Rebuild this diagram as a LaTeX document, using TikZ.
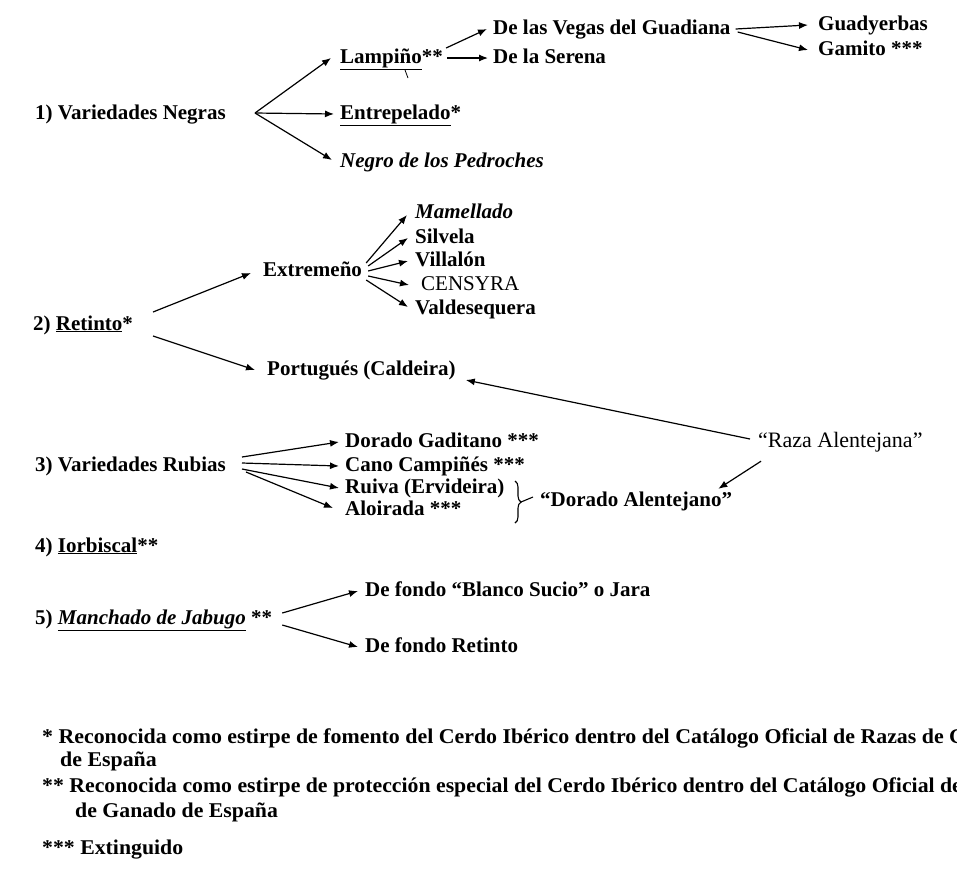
\documentclass[tikz,border=0pt]{standalone}
\usepackage{fontspec}
\setmainfont{Liberation Serif}
\usepackage{graphicx}
\usetikzlibrary{arrows.meta,decorations.pathreplacing}
\newlength\fnwa
\newlength\fnwb
\newcommand\mainfnt{\fontsize{21}{24}\selectfont\bfseries}
\newcommand\lightfnt{\fontsize{21}{24}\selectfont\mdseries}
\newcommand\notefnt{\fontsize{21}{24}\selectfont\bfseries}
\begin{document}
\settowidth\fnwa{\notefnt * Reconocida como estirpe de fomento del Cerdo Ibérico dentro del Catálogo Oficial de Razas de }%
\pgfmathsetmacro\fsa{(957-42-8)/\fnwa}%
\settowidth\fnwb{\notefnt ** Reconocida como estirpe de protección especial del Cerdo Ibérico dentro del Catálogo Oficial d}%
\pgfmathsetmacro\fsb{(952-42)/\fnwb}%
\begin{tikzpicture}[x=1pt,y=-1pt,
  lbl/.style={inner sep=0pt, anchor=base west, text height=14pt, text depth=4pt, font=\mainfnt},
  note/.style={inner sep=0pt, anchor=base west},
  arr/.style={line width=1.2pt, -{Latex[length=9pt,width=7pt]}},
  plainline/.style={line width=1.1pt}]
\useasboundingbox (0,0) rectangle (957,879);
\clip (0,0) rectangle (957,879);

% ---- group 1
\node[lbl] (vn) at (35,119) {1) Variedades Negras};
\node[lbl] (lamp) at (340,63) {\underline{Lampiño}**};
\node[lbl] (entre) at (340,119) {\underline{Entrepelado}*};
\node[lbl] (negro) at (340,167) {\itshape Negro de los Pedroches};
\node[lbl] (vegas) at (493,34) {De las Vegas del Guadiana};
\node[lbl] (serena) at (493,63) {De la Serena};
\node[lbl] (guad) at (818,30) {Guadyerbas};
\node[lbl] (gamito) at (818,55) {Gamito ***};

\coordinate (vnO) at (255,113);
\draw[arr] (vnO) -- ([shift={(-9,0)}]lamp.west);
\draw[arr] (vnO) -- ([shift={(-6,0)}]entre.west);
\draw[arr] (vnO) -- ([shift={(-8,-2)}]negro.west);
\draw[arr] ([shift={(3,-10)}]lamp.east) -- ([shift={(-6,0)}]vegas.west);
\draw[arr] ([shift={(4,0)}]lamp.east) -- ([shift={(-5,0)}]serena.west);
\draw[arr] ([shift={(5,0)}]vegas.east) -- ([shift={(-10,0)}]guad.west);
\draw[arr] ([shift={(7,3)}]vegas.east) -- ([shift={(-10,0)}]gamito.west);
\coordinate (tickA) at (405,70);
\coordinate (tickB) at (408,78);
\draw[line width=0.8pt] (tickA) -- (tickB);

% ---- group 2
\node[lbl] (ret) at (33,330) {2) \underline{Retinto}*};
\node[lbl] (extr) at (263,276) {Extremeño};
\node[lbl] (mam) at (415,218) {\itshape Mamellado};
\node[lbl] (silv) at (415,243) {Silvela};
\node[lbl] (vill) at (415,266) {Villalón};
\node[lbl, font=\lightfnt] (cens) at (421,290) {CENSYRA};
\node[lbl] (vald) at (415,314) {Valdesequera};
\node[lbl] (port) at (267,375) {Portugués (Caldeira)};

\coordinate (retA) at (153,312);
\coordinate (retB) at (153,336);
\draw[arr] (retA) -- ([shift={(-12,2)}]extr.west);
\draw[arr] (retB) -- ([shift={(-12,0)}]port.west);
\draw[arr] ([shift={(4,-8)}]extr.east) -- ([shift={(-8,2)}]mam.west);
\draw[arr] ([shift={(6,-5)}]extr.east) -- ([shift={(-7,0)}]silv.west);
\draw[arr] ([shift={(6,0)}]extr.east) -- ([shift={(-7,0)}]vill.west);
\draw[arr] ([shift={(6,5)}]extr.east) -- ([shift={(-12,0)}]cens.west);
\draw[arr] ([shift={(4,9)}]extr.east) -- ([shift={(-7,-2)}]vald.west);

% ---- Raza Alentejana
\node[lbl, font=\fontsize{22}{24}\selectfont\mdseries] (raza) at (758,447) {“Raza Alentejana”};
\draw[arr] ([shift={(-8,-3)}]raza.west) -- ([shift={(10,10)}]port.east);

% ---- group 3
\node[lbl] (rub) at (35,471) {3) Variedades Rubias};
\node[lbl] (gad) at (345,447) {Dorado Gaditano ***};
\node[lbl] (cano) at (345,471) {Cano Campiñés ***};
\node[lbl] (ruiva) at (345,493) {Ruiva (Ervideira)};
\node[lbl] (aloi) at (345,515) {Aloirada ***};
\node[lbl] (doral) at (540,506) {“Dorado Alentejano”};

\draw[arr] ([shift={(16,-9)}]rub.east) -- ([shift={(-6,0)}]gad.west);
\draw[arr] ([shift={(16,-3)}]rub.east) -- ([shift={(-6,0)}]cano.west);
\draw[arr] ([shift={(16,3)}]rub.east) -- ([shift={(-6,0)}]ruiva.west);
\draw[arr] ([shift={(20,6)}]rub.east) -- ([shift={(-12,-2)}]aloi.west);
\draw[arr] ([shift={(3,10)}]raza.south west) -- ([shift={(-14,-3)}]doral.north east);

\coordinate (brT) at (515,481);
\coordinate (brB) at (515,523);
\coordinate (brTip) at (521,502);
\draw[plainline, decorate, decoration={brace, amplitude=6pt}] (brT) -- (brB);
\draw[plainline] (brTip) -- ([shift={(-7,-4)}]doral.west);

% ---- group 4, 5
\node[lbl] (ior) at (35,552) {4) \underline{Iorbiscal}**};
\node[lbl] (manch) at (35,624) {5) \underline{\itshape Manchado de Jabugo} **};
\node[lbl] (blanco) at (365,596) {De fondo “Blanco Sucio” o Jara};
\node[lbl] (fret) at (365,652) {De fondo Retinto};
\draw[arr] ([shift={(10,-6)}]manch.east) -- ([shift={(-7,0)}]blanco.west);
\draw[arr] ([shift={(10,6)}]manch.east) -- ([shift={(-7,0)}]fret.west);

% ---- footnotes
\node[note] (fa) at (42,743) {\scalebox{\fsa}[1]{\notefnt * Reconocida como estirpe de fomento del Cerdo Ibérico dentro del Catálogo Oficial de Razas de Ganado}};
\node[note] (fa2) at (60,766) {\scalebox{\fsa}[1]{\notefnt de España}};
\node[note] (fb) at (42,792) {\scalebox{\fsb}[1]{\notefnt ** Reconocida como estirpe de protección especial del Cerdo Ibérico dentro del Catálogo Oficial de Razas}};
\node[note] (fb2) at (75,817) {\scalebox{\fsb}[1]{\notefnt de Ganado de España}};
\node[note] (fc) at (42,854) {\scalebox{\fsb}[1]{\notefnt *** Extinguido}};
\end{tikzpicture}
\end{document}
